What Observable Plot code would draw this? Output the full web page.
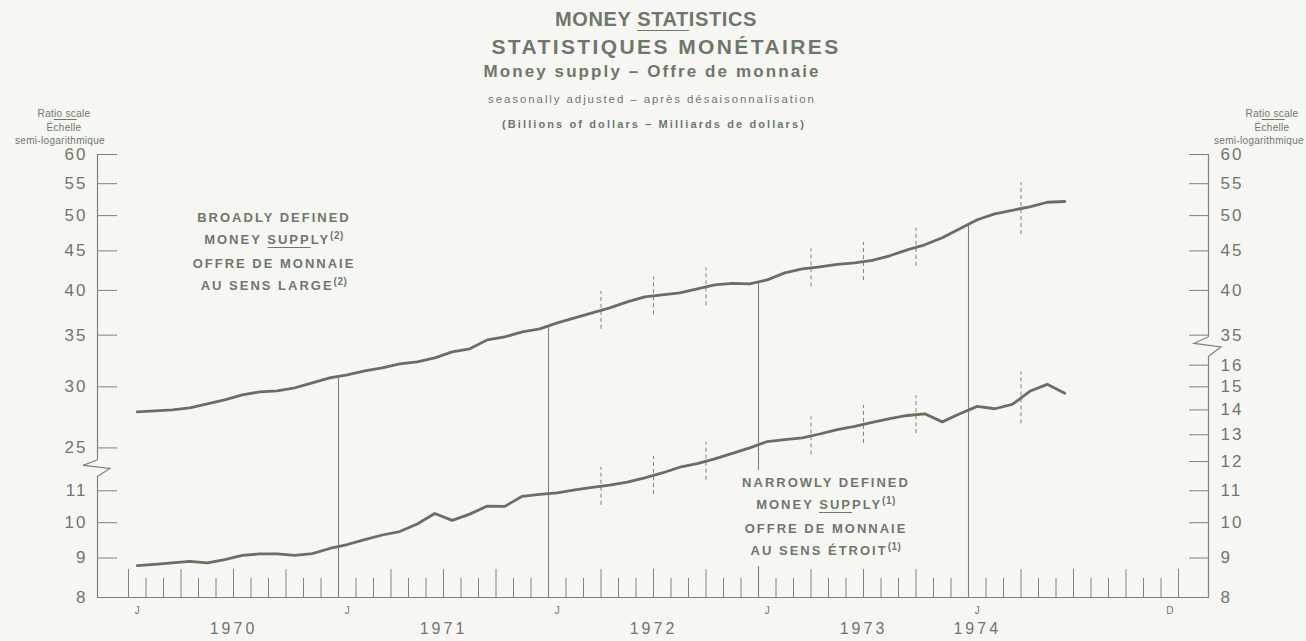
<!DOCTYPE html>
<html>
<head>
<meta charset="utf-8">
<script src="https://cdn.jsdelivr.net/npm/d3@7"></script>
<script src="https://cdn.jsdelivr.net/npm/@observablehq/plot@0.6"></script>
<style>
  body { margin: 0; background: #f6f7f3; }
  #wrap { position: relative; width: 1306px; height: 641px; overflow: hidden;
          font-family: "Liberation Sans", Arial, sans-serif; color: #6e776a; }
  #wrap svg { position: absolute; left: 0; top: 0; }
  .t { position: absolute; white-space: nowrap; transform: translate(-50%, -50%); line-height: 1; }
  .h1a { font-size: 20px; font-weight: bold; letter-spacing: 0.6px; }
  .h1b { font-size: 21px; font-weight: bold; letter-spacing: 2.4px; }
  .h2 { font-size: 17px; font-weight: bold; letter-spacing: 2.1px; }
  .h3 { font-size: 11.5px; letter-spacing: 1.9px; }
  .h4 { font-size: 11px; font-weight: bold; letter-spacing: 2.1px; }
  .side { font-size: 10px; letter-spacing: 0.3px; }
  .lab { font-size: 13px; font-weight: bold; letter-spacing: 2px; }
  .lab sup { font-size: 10px; letter-spacing: 0.5px; vertical-align: 5px; }
  .ul { border-bottom: 1px solid #6e776a; }
  .blk { position: absolute; transform: translateX(-50%); background: #f6f7f3; padding: 4px 6px; }
  [aria-label="y-axis tick label"] { letter-spacing: 2px; }
  .yr text { letter-spacing: 3px; }
</style>
</head>
<body>
<div id="wrap">
  <div class="t h1a" style="left:656px;top:19px">MONEY <span class="ul">STAT</span>ISTICS</div>
  <div class="t h1b" style="left:666px;top:46px">STATISTIQUES MONÉTAIRES</div>
  <div class="t h2" style="left:652px;top:71px">Money supply – Offre de monnaie</div>
  <div class="t h3" style="left:652px;top:100px">seasonally adjusted – après désaisonnalisation</div>
  <div class="t h4" style="left:654px;top:124px">(Billions of dollars – Milliards de dollars)</div>

  <div class="t side" style="left:64px;top:114px">Rat<span class="ul">io sc</span>ale</div>
  <div class="t side" style="left:64px;top:128px">Échelle</div>
  <div class="t side" style="left:60px;top:141px">semi-logarithmique</div>
  <div class="t side" style="left:1272px;top:114px">Rat<span class="ul">io sc</span>ale</div>
  <div class="t side" style="left:1272px;top:128px">Échelle</div>
  <div class="t side" style="left:1259px;top:141px">semi-logarithmique</div>
</div>
<script>
// ---- data ----
const months = [
  "1970-01","1970-02","1970-03","1970-04","1970-05","1970-06","1970-07","1970-08","1970-09","1970-10","1970-11","1970-12",
  "1971-01","1971-02","1971-03","1971-04","1971-05","1971-06","1971-07","1971-08","1971-09","1971-10","1971-11","1971-12",
  "1972-01","1972-02","1972-03","1972-04","1972-05","1972-06","1972-07","1972-08","1972-09","1972-10","1972-11","1972-12",
  "1973-01","1973-02","1973-03","1973-04","1973-05","1973-06","1973-07","1973-08","1973-09","1973-10","1973-11","1973-12",
  "1974-01","1974-02","1974-03","1974-04","1974-05","1974-06"
];
// Broadly defined money supply (billions of dollars) – upper ratio scale 25–60
const broadMoney = [
  27.84, 27.92, 28.00, 28.17, 28.51, 28.85, 29.29, 29.55, 29.64, 29.90, 30.35, 30.81,
  31.09, 31.46, 31.74, 32.12, 32.32, 32.70, 33.30, 33.60, 34.51, 34.82, 35.35, 35.66,
  36.31, 36.85, 37.41, 37.97, 38.66, 39.24, 39.47, 39.71, 40.19, 40.67, 40.85, 40.79,
  41.28, 42.15, 42.66, 42.91, 43.24, 43.43, 43.76, 44.35, 45.15, 45.83, 46.80, 48.07,
  49.38, 50.27, 50.80, 51.33, 52.03, 52.15
];
// Narrowly defined money supply (billions of dollars) – lower ratio scale 8–16
const narrowMoney = [
  8.80, 8.83, 8.87, 8.91, 8.87, 8.96, 9.07, 9.11, 9.11, 9.07, 9.12, 9.26,
  9.37, 9.51, 9.64, 9.74, 9.96, 10.28, 10.07, 10.26, 10.51, 10.50, 10.82, 10.88,
  10.93, 11.03, 11.11, 11.19, 11.29, 11.43, 11.60, 11.80, 11.93, 12.10, 12.30, 12.50,
  12.74, 12.81, 12.88, 13.03, 13.20, 13.33, 13.49, 13.64, 13.77, 13.84, 13.51, 13.84,
  14.15, 14.05, 14.23, 14.80, 15.11, 14.71
];
const leftLowerTicks = [8, 9, 10, 11];
const leftUpperTicks = [25, 30, 35, 40, 45, 50, 55, 60];
const rightLowerTicks = [8, 9, 10, 11, 12, 13, 14, 15, 16];
const rightUpperTicks = [35, 40, 45, 50, 55, 60];
const monthLetters = [
  {month: "1970-01", text: "J"}, {month: "1971-01", text: "J"}, {month: "1972-01", text: "J"},
  {month: "1973-01", text: "J"}, {month: "1974-01", text: "J"}, {month: "1974-12", text: "D"}
];
const yearLabels = [
  {at: 6, text: "1970"}, {at: 18, text: "1971"}, {at: 30, text: "1972"},
  {at: 42, text: "1973"}, {at: 48.5, text: "1974"}
];
const yearStarts = [12, 24, 36, 48];               // month boundaries with solid rules
const quarterMarks = [27, 30, 33, 39, 42, 45, 51]; // month boundaries with dashed marks

// ---- derived ----
const K = 0.5; // the upper scale (25–60) shares the ratio axis at half value
const ink = "#6e776a", lineInk = "#67715f", ruleInk = "#7c8578";
const monthIndex = (s) => (+s.slice(0, 4) - 1970) * 12 + (+s.slice(5, 7) - 1);
const broad = months.map((m, i) => ({x: monthIndex(m) + 0.5, v: broadMoney[i] * K}));
const narrow = months.map((m, i) => ({x: monthIndex(m) + 0.5, v: narrowMoney[i]}));
const atBoundary = (arr, b) => Math.sqrt(arr[b - 1] * arr[b]);

const W = 1306, H = 641, mL = 97, mR = 98, mT = 154, mB = 44;
const yMin = 8, yMax = 30;
const pxPerLn = (H - mT - mB) / Math.log(yMax / yMin);
const xDomain = [-31 / 17.5, 60 + 30 / 17.5];

const yearRules = yearStarts.map(b => ({x: b, top: atBoundary(broadMoney, b) * K}));
const dashes = quarterMarks.flatMap(b => {
  const half = Math.exp((b === 51 ? 26 : 19) / pxPerLn);
  return [atBoundary(broadMoney, b) * K, atBoundary(narrowMoney, b)].map(v => ({x: b, lo: v / half, hi: v * half}));
});
const boundaries = d3.range(0, 61);
const tallTicks = boundaries.filter(b => b % 3 === 0);
const shortTicks = boundaries.filter(b => b % 3 !== 0);

const leftBreak = {lo: 11.45, hi: 12.04};
const rightBreak = {lo: 16.38, hi: 17.38};

const leftTicks = [...leftLowerTicks, ...leftUpperTicks.map(v => v * K)];
const rightTicks = [...rightLowerTicks, ...rightUpperTicks.map(v => v * K)];
const fmtL = d => String(Math.round(d > 12 ? d / K : d));
const fmtR = d => String(Math.round(d > 16.5 ? d / K : d));

const plot = Plot.plot({
  width: W, height: H,
  marginLeft: mL, marginRight: mR, marginTop: mT, marginBottom: mB,
  style: {background: "transparent", color: ink, fontFamily: '"Liberation Sans", Arial, sans-serif'},
  x: {domain: xDomain, axis: null},
  y: {type: "log", domain: [yMin, yMax], axis: null},
  marks: [
    // frame: baseline and broken vertical axes
    Plot.ruleY([yMin], {stroke: ruleInk, strokeWidth: 1.2}),
    Plot.ruleX([xDomain[0]], {y1: yMin, y2: leftBreak.lo, stroke: ruleInk, strokeWidth: 1.2}),
    Plot.ruleX([xDomain[0]], {y1: leftBreak.hi, y2: yMax, stroke: ruleInk, strokeWidth: 1.2}),
    Plot.ruleX([xDomain[1]], {y1: yMin, y2: rightBreak.lo, stroke: ruleInk, strokeWidth: 1.2}),
    Plot.ruleX([xDomain[1]], {y1: rightBreak.hi, y2: yMax, stroke: ruleInk, strokeWidth: 1.2}),
    // month ticks on baseline
    Plot.axisX(tallTicks, {anchor: "bottom", tickSize: 28, dy: -28, fill: "none", stroke: ruleInk, label: null}),
    Plot.axisX(shortTicks, {anchor: "bottom", tickSize: 19, dy: -19, fill: "none", stroke: ruleInk, label: null}),
    // y axes (ticks point inward)
    Plot.axisY(leftTicks, {anchor: "left", tickSize: 20, dx: 20, tickPadding: 10, tickFormat: fmtL,
      fontSize: 17, stroke: ruleInk, label: null}),
    Plot.axisY(rightTicks, {anchor: "right", tickSize: 20, dx: -20, tickPadding: 12, tickFormat: fmtR,
      fontSize: 17, stroke: ruleInk, label: null}),
    // year rules and quarterly dashed marks
    Plot.ruleX(yearRules, {x: "x", y1: yMin, y2: "top", stroke: ruleInk, strokeWidth: 1.1}),
    Plot.ruleX(dashes, {x: "x", y1: "lo", y2: "hi", stroke: ruleInk, strokeWidth: 1, strokeDasharray: "4,3"}),
    // series
    Plot.line(broad, {x: "x", y: "v", stroke: lineInk, strokeWidth: 2.8, strokeLinejoin: "round"}),
    Plot.line(narrow, {x: "x", y: "v", stroke: lineInk, strokeWidth: 2.8, strokeLinejoin: "round"}),
    // x labels
    Plot.text(monthLetters, {x: d => monthIndex(d.month) + 0.5, text: "text", frameAnchor: "bottom", dy: 16, fontSize: 10}),
    Plot.text(yearLabels, {x: "at", text: "text", frameAnchor: "bottom", dy: 36, fontSize: 16, className: "yr"})
  ]
});

// axis-break zigzags
const sx = plot.scale("x"), sy = plot.scale("y");
function zig(xv, br) {
  const x = sx.apply(xv), yHi = sy.apply(br.hi), yLo = sy.apply(br.lo), h = yLo - yHi;
  return `M${x},${yHi}L${x - 14},${yHi + h * 0.32}L${x + 13},${yHi + h * 0.5}L${x},${yLo}`;
}
d3.select(plot).append("path").attr("d", zig(xDomain[0], leftBreak))
  .attr("fill", "none").attr("stroke", ruleInk).attr("stroke-width", 1.2);
d3.select(plot).append("path").attr("d", zig(xDomain[1], rightBreak))
  .attr("fill", "none").attr("stroke", ruleInk).attr("stroke-width", 1.2);

const wrap = document.getElementById("wrap");
wrap.insertBefore(plot, wrap.firstChild);

// series labels
const broadLab = document.createElement("div");
broadLab.className = "blk lab";
broadLab.style.cssText = "left:274px;top:205px;text-align:center;background:none;line-height:18px";
broadLab.innerHTML = 'BROADLY DEFINED<br>MONEY <span class="ul">SUPP</span>LY<sup>(2)</sup>' +
  '<div style="height:6px"></div>OFFRE DE MONNAIE<br>AU SENS LARGE<sup>(2)</sup>';
wrap.appendChild(broadLab);

const narrowLab = document.createElement("div");
narrowLab.className = "blk lab";
narrowLab.style.cssText = "left:826px;top:470px;text-align:center;line-height:18px;padding:4px 8px 6px";
narrowLab.innerHTML = 'NARROWLY DEFINED<br>MONEY <span class="ul">SUP</span>PLY<sup>(1)</sup>' +
  '<div style="height:6px"></div>OFFRE DE MONNAIE<br>AU SENS ÉTROIT<sup>(1)</sup>';
wrap.appendChild(narrowLab);
</script>
</body>
</html>
